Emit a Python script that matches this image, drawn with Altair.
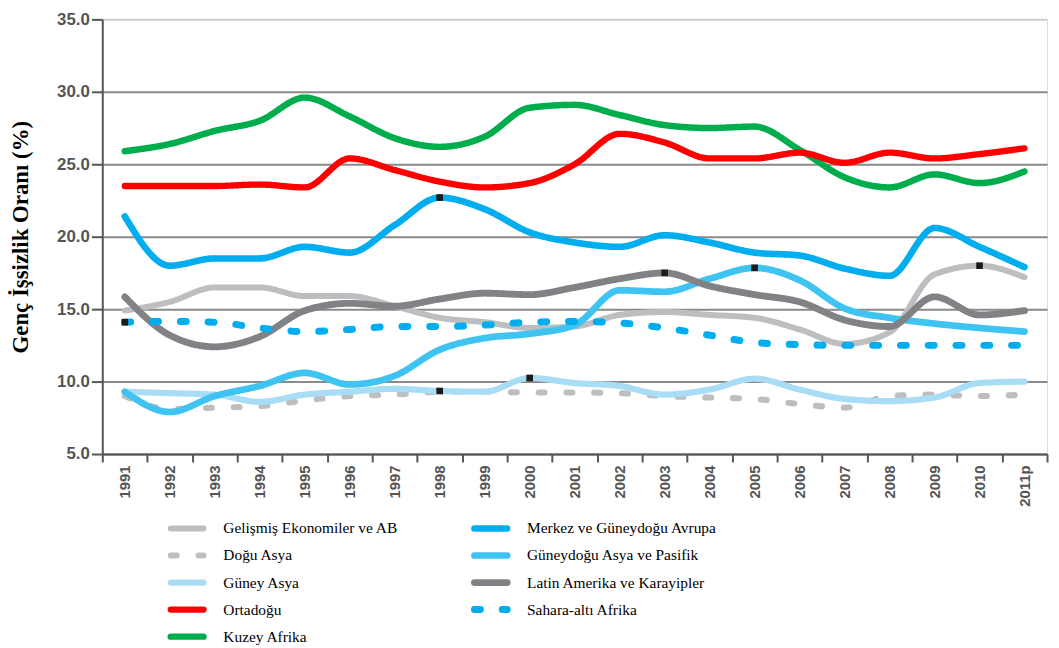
import altair as alt
import pandas as pd

years = ["1991", "1992", "1993", "1994", "1995", "1996", "1997", "1998", "1999", "2000",
         "2001", "2002", "2003", "2004", "2005", "2006", "2007", "2008", "2009", "2010", "2011p"]

gelismis = [14.9, 15.5, 16.5, 16.5, 15.9, 15.9, 15.2, 14.4, 14.1, 13.7, 13.8,
            14.6, 14.8, 14.6, 14.4, 13.6, 12.6, 13.4, 17.4, 18.0, 17.2]
dogu_asya = [9.0, 8.1, 8.2, 8.3, 8.7, 9.0, 9.1, 9.3, 9.3, 9.25, 9.25,
             9.2, 9.0, 8.9, 8.8, 8.45, 8.2, 9.0, 9.1, 9.0, 9.1]
guney_asya = [9.3, 9.2, 9.1, 8.6, 9.1, 9.3, 9.5, 9.35, 9.3, 10.25, 9.9,
              9.7, 9.1, 9.45, 10.2, 9.45, 8.8, 8.65, 8.9, 9.9, 10.0]
ortadogu = [23.5, 23.5, 23.5, 23.6, 23.4, 25.4, 24.6, 23.8, 23.4, 23.7, 25.0,
            27.1, 26.5, 25.4, 25.4, 25.8, 25.1, 25.8, 25.4, 25.7, 26.1]
kuzey_afrika = [25.9, 26.4, 27.3, 28.0, 29.6, 28.3, 26.8, 26.2, 26.9, 28.9, 29.1,
                28.4, 27.7, 27.5, 27.6, 26.0, 24.1, 23.4, 24.3, 23.7, 24.5]
merkez = [21.4, 18.0, 18.5, 18.5, 19.3, 18.9, 20.8, 22.7, 21.9, 20.3, 19.6,
          19.3, 20.1, 19.6, 18.9, 18.7, 17.8, 17.3, 20.6, 19.3, 17.9]
guneydogu = [9.3, 7.9, 9.0, 9.7, 10.6, 9.8, 10.4, 12.2, 13.0, 13.3, 13.9,
             16.3, 16.2, 17.1, 17.85, 17.0, 15.05, 14.4, 14.0, 13.7, 13.45]
latin = [15.85, 13.2, 12.4, 13.1, 14.9, 15.4, 15.2, 15.7, 16.1, 16.0, 16.5,
         17.1, 17.5, 16.6, 16.0, 15.5, 14.25, 13.8, 15.85, 14.6, 14.9]
sahara = [14.1, 14.15, 14.1, 13.7, 13.45, 13.6, 13.8, 13.8, 13.9, 14.1, 14.15,
          14.05, 13.7, 13.2, 12.7, 12.55, 12.5, 12.5, 12.5, 12.5, 12.5]

# legend: left column then right column
legend_left = ["Gelişmiş Ekonomiler ve AB", "Doğu Asya", "Güney Asya", "Ortadoğu", "Kuzey Afrika"]
legend_right = ["Merkez ve Güneydoğu Avrupa", "Güneydoğu Asya ve Pasifik",
                "Latin Amerika ve Karayipler", "Sahara-altı Afrika"]
series_order = legend_left + legend_right
series_values = {
    "Gelişmiş Ekonomiler ve AB": gelismis,
    "Doğu Asya": dogu_asya,
    "Güney Asya": guney_asya,
    "Ortadoğu": ortadogu,
    "Kuzey Afrika": kuzey_afrika,
    "Merkez ve Güneydoğu Avrupa": merkez,
    "Güneydoğu Asya ve Pasifik": guneydogu,
    "Latin Amerika ve Karayipler": latin,
    "Sahara-altı Afrika": sahara,
}
colors = ["#BCBEC0", "#BCBEC0", "#A9DDF6", "#FF0000", "#00AD4C",
          "#00AEEF", "#3FC3F1", "#808285", "#00AEEF"]
dashes = [[1, 0], [6, 22], [1, 0], [1, 0], [1, 0], [1, 0], [1, 0], [1, 0], [6, 22]]
widths = [6, 7, 6, 10, 10, 7, 6, 6, 7]

markers = [("Sahara-altı Afrika", "1991"), ("Merkez ve Güneydoğu Avrupa", "1998"),
           ("Güney Asya", "1998"), ("Güney Asya", "2000"),
           ("Latin Amerika ve Karayipler", "2003"), ("Güneydoğu Asya ve Pasifik", "2005"),
           ("Gelişmiş Ekonomiler ve AB", "2010")]

rows = []
for s in series_order:
    for y, v in zip(years, series_values[s]):
        rows.append({"Bölge": s, "Yıl": y, "Oran": v})
df = pd.DataFrame(rows)

mrows = []
for s, y in markers:
    mrows.append({"Bölge": s, "Yıl": y, "Oran": series_values[s][years.index(y)]})
mdf = pd.DataFrame(mrows)

lrows = []
for ci, col in enumerate([legend_left, legend_right]):
    for ri, s in enumerate(col):
        lrows.append({"Bölge": s, "kolon": ci, "satir": ri})
ldf = pd.DataFrame(lrows)

tick_font = "Liberation Sans Narrow, Arial Narrow, Liberation Sans"
serif = "Liberation Serif, Times New Roman, serif"

color_scale = alt.Scale(domain=series_order, range=colors)
dash_scale = alt.Scale(domain=series_order, range=dashes)
width_scale = alt.Scale(domain=series_order, range=widths)

x_enc = alt.X("Yıl:O", sort=years, title=None,
              scale=alt.Scale(domain=years, paddingInner=0, paddingOuter=0),
              axis=alt.Axis(labelAngle=270, labelFont=tick_font, labelFontSize=15,
                            labelFontWeight="bold", labelColor="#555555",
                            tickBand="extent", tickSize=8, tickColor="#555555", tickWidth=2,
                            domainColor="#555555", domainWidth=2, labelPadding=3))
y_enc = alt.Y("Oran:Q", title="Genç İşsizlik Oranı (%)",
              scale=alt.Scale(domain=[5, 35], nice=False, zero=False),
              axis=alt.Axis(values=[5, 10, 15, 20, 25, 30, 35], format=".1f",
                            labelFont=tick_font, labelFontSize=17, labelFontWeight="bold",
                            labelColor="#555555", tickSize=11, tickColor="#555555",
                            tickWidth=2, domainColor="#555555", domainWidth=2,
                            gridColor={"condition": {"test": "datum.value >= 35", "value": "#d0d0d0"},
                                       "value": "#8a8a8a"},
                            gridWidth=2, labelPadding=2,
                            titleFont=serif, titleFontSize=23, titleFontWeight="bold",
                            titleColor="#000000", titlePadding=24))

color_enc = alt.Color("Bölge:N", scale=color_scale, legend=None)
dash_enc = alt.StrokeDash("Bölge:N", scale=dash_scale, legend=None)
width_enc = alt.StrokeWidth("Bölge:N", scale=width_scale, legend=None)

base = alt.Chart(df).mark_line(interpolate="monotone", strokeCap="round", strokeJoin="round").encode(
    x=x_enc, y=y_enc, color=color_enc, strokeDash=dash_enc, strokeWidth=width_enc,
    detail="Bölge:N")

others = base.transform_filter(
    alt.FieldOneOfPredicate(field="Bölge", oneOf=[s for s in series_order if s not in ("Ortadoğu", "Kuzey Afrika")]))
green = base.transform_filter(alt.FieldEqualPredicate(field="Bölge", equal="Kuzey Afrika"))
red = base.transform_filter(alt.FieldEqualPredicate(field="Bölge", equal="Ortadoğu"))

marks = alt.Chart(mdf).mark_square(size=45, color="#1a1a1a", opacity=1).encode(
    x=alt.X("Yıl:O", sort=years, scale=alt.Scale(domain=years)), y=alt.Y("Oran:Q"))

main = alt.layer(others, green, red, marks)

# custom two-column legend below the plot
lx = alt.X("kolon:Q", scale=alt.Scale(domain=[0, 1], range=[69, 375]), axis=None)
ly = alt.Y("satir:Q", scale=alt.Scale(domain=[0, 4], range=[513, 622]), axis=None)
leg_sym = alt.Chart(ldf).mark_rule(x2Offset=33, strokeCap="round").encode(
    x=lx, x2="kolon:Q", y=ly, color=color_enc, strokeDash=dash_enc, strokeWidth=width_enc)
leg_txt = alt.Chart(ldf).mark_text(align="left", baseline="middle", dx=53, font=serif,
                                   fontSize=15.5, color="#000000").encode(
    x=lx, y=ly, text="Bölge:N")
leg = alt.layer(leg_sym, leg_txt)

chart = alt.layer(main, leg).resolve_scale(x="independent", y="independent").properties(
    width=952, height=438,
    autosize=alt.AutoSizeParams(type="none"),
    padding={"left": 95, "top": 9, "right": 4, "bottom": 192},
).configure_view(stroke="#c8c8c8", strokeWidth=1).configure(background="white")

chart.save("out.html", embed_options={"renderer": "svg", "actions": False})
